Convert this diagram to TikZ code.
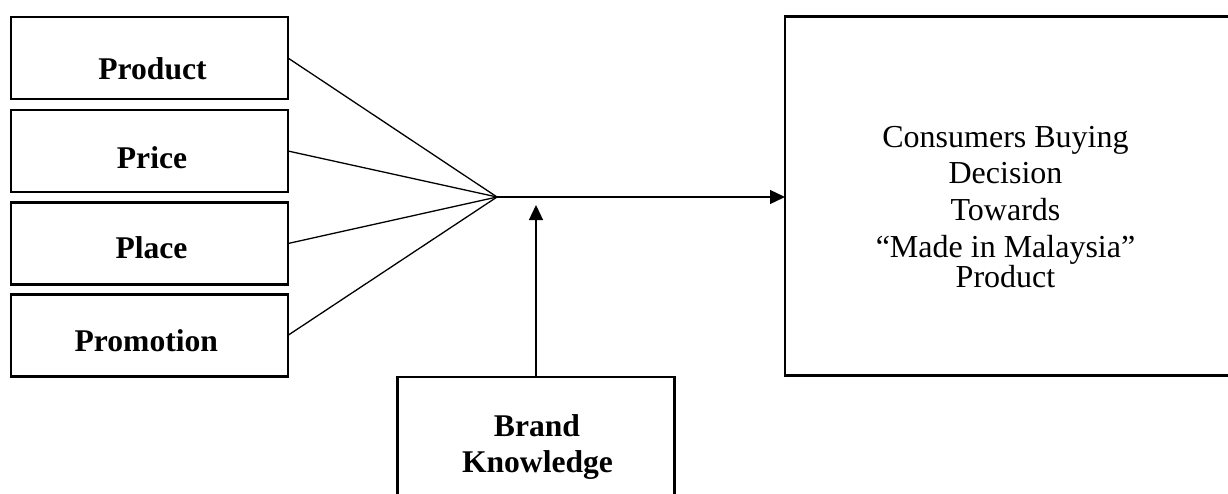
\documentclass[tikz,border=0pt]{standalone}
\usepackage{fontspec}
\setmainfont{Liberation Serif}
\usetikzlibrary{arrows.meta,calc}
\tikzset{
  box/.style={draw,line width=2.6pt,inner sep=0pt,outer sep=0pt,minimum width=277pt,minimum height=82pt},
  conn/.style={line width=1.3pt},
  arr/.style={line width=1.3pt,-{Triangle[length=15pt,width=14pt]}},
  blbl/.style={anchor=base,inner sep=0pt,font=\fontsize{31.6}{36}\selectfont\bfseries},
  rlbl/.style={anchor=base,inner sep=0pt,font=\fontsize{32}{36}\selectfont}
}
\begin{document}
\begin{tikzpicture}[x=1pt,y=-1pt]
\useasboundingbox (0,0) rectangle (1228,493);
% left boxes
\node[box] (product) at (149.5,58) {};
\node[box] (price) at (149.5,151) {};
\node[box] (place) at (149.5,243.5) {};
\node[box] (promo) at (149.5,335.3) {};
\node[blbl] (tproduct) at (152.5,79.3) {Product};
\node[blbl] (tprice) at (152,168.3) {Price};
\node[blbl] (tplace) at (151.5,258.3) {Place};
\node[blbl] (tpromo) at (146.3,351.7) {Promotion};
% result box
\node[box,minimum width=447pt,minimum height=359.4pt] (result) at (1008.5,196) {};
\node[rlbl] (r1) at (1005.5,147) {Consumers Buying};
\node[rlbl] (r2) at (1005.5,183) {Decision};
\node[rlbl] (r3) at (1005.5,220) {Towards};
\node[rlbl] (r4) at (1005.5,257) {``Made in Malaysia''};
\node[rlbl] (r5) at (1005.5,287.3) {Product};
% brand knowledge box
\node[box,minimum width=276.6pt,minimum height=143pt] (brand) at (536,448.5) {};
\node[blbl] (tb1) at (537,436) {Brand};
\node[blbl] (tb2) at (537.5,472.7) {Knowledge};
% connectors
\coordinate (hub) at (497,197);
\coordinate (bktip) at (536,205);
\draw[conn] (product.east) -- (hub);
\draw[conn] (price.east) -- (hub);
\draw[conn] (place.east) -- (hub);
\draw[conn] (promo.east) -- (hub);
\draw[arr] (hub) -- (hub -| result.west);
\draw[arr] (brand.north) -- (bktip);
\end{tikzpicture}
\end{document}
